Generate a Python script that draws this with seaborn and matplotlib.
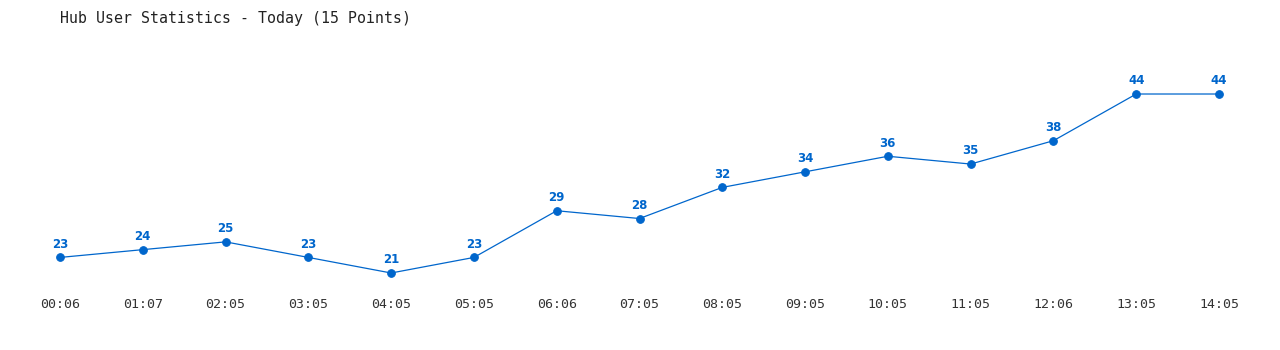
import matplotlib
matplotlib.use("Agg")
import matplotlib.pyplot as plt
import seaborn as sns
import pandas as pd

times = ["00:06", "01:07", "02:05", "03:05", "04:05", "05:05", "06:06", "07:05",
         "08:05", "09:05", "10:05", "11:05", "12:06", "13:05", "14:05"]
users = [23, 24, 25, 23, 21, 23, 29, 28, 32, 34, 36, 35, 38, 44, 44]
title = "Hub User Statistics - Today (15 Points)"

sns.set_theme(style="white")
plt.rcParams['font.family'] = ['DejaVu Sans Mono', 'DejaVu Sans']

df = pd.DataFrame({"idx": range(len(times)), "time": times, "users": users})

color = "#0066cc"
fig = plt.figure(figsize=(12.8, 3.5), dpi=100)
ax = fig.add_axes([60/1280, 1 - 290/350, (1219 - 60)/1280, 230/350])
sns.lineplot(data=df, x="idx", y="users", ax=ax, color=color, linewidth=0.9,
             marker="o", markersize=5.5, markeredgecolor=color, markerfacecolor=color)
for line in ax.lines:
    line.set_clip_on(False)

ax.set_xlim(0, len(times) - 1)
ax.set_ylim(18.815, 48.37)
ax.set_xticks(df["idx"])
ax.set_xticklabels(times, fontsize=9.5, color="#333333")
ax.set_yticks([])
ax.tick_params(axis="x", length=0, pad=5.5)
ax.set_xlabel("")
ax.set_ylabel("")
for s in ax.spines.values():
    s.set_visible(False)

for i, v in zip(df["idx"], df["users"]):
    ax.annotate(str(v), (i, v), xytext=(0, 9.5), textcoords="offset points",
                ha="center", va="center", fontsize=8.5, fontweight="bold",
                color=color, family="DejaVu Sans")

fig.text(60/1280, 1 - 18/350, title, fontsize=10.7, color="#222222",
         ha="left", va="center")

fig.savefig("out.png", dpi=100, facecolor="white")
